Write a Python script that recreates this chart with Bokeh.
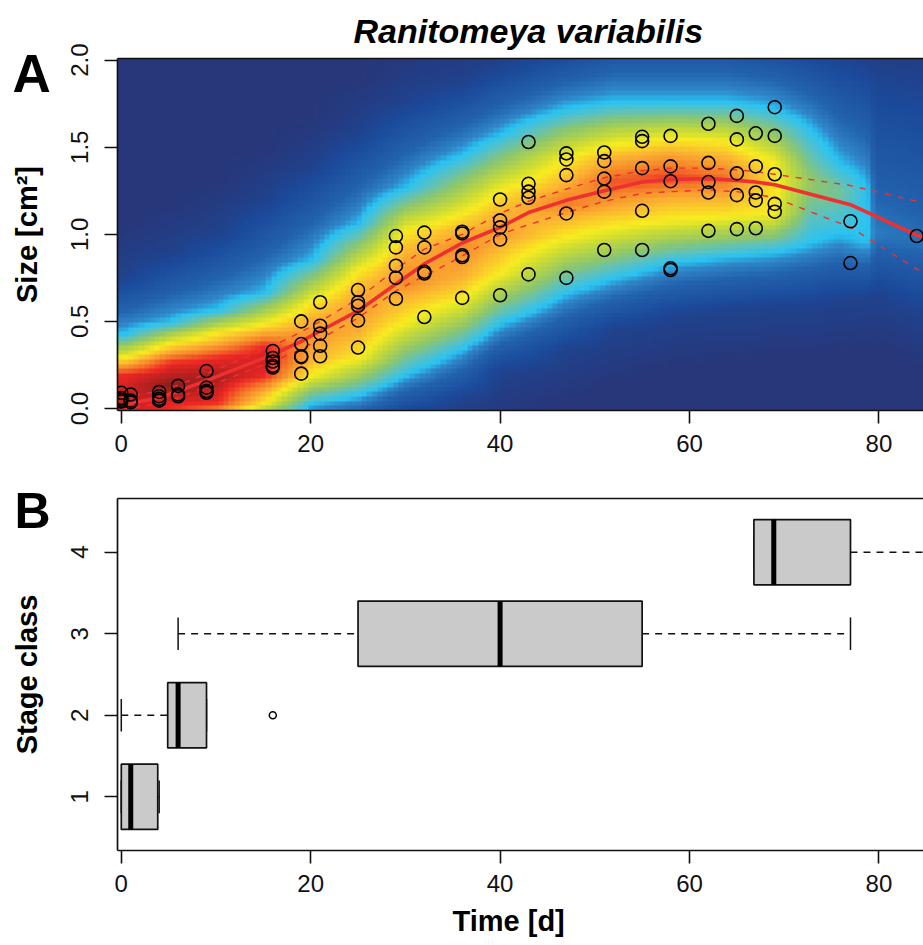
import numpy as np
from bokeh.plotting import figure
from bokeh.layouts import column
from bokeh.models import Range1d, Title, FixedTicker, LinearAxis
from bokeh.embed import file_html
from bokeh.resources import INLINE

N = float("nan")
# scatter points: day -> sizes
point_days = [0, 1, 4, 6, 9, 16, 19, 21, 25, 29, 32, 36, 40, 43, 47, 51, 55, 58, 62, 65, 67, 69, 77, 84]
point_sizes = [
    [0.09, 0.06, 0.05, 0.04],
    [0.08, 0.045, 0.035],
    [0.095, 0.07, 0.055, 0.045],
    [0.13, 0.08, 0.07],
    [0.215, 0.12, 0.10, 0.09],
    [0.33, 0.29, 0.27, 0.245, 0.235],
    [0.50, 0.37, 0.30, 0.295, 0.20],
    [0.61, 0.475, 0.43, 0.36, 0.30],
    [0.68, 0.61, 0.59, 0.505, 0.35],
    [0.99, 0.925, 0.82, 0.75, 0.63],
    [1.01, 0.925, 0.785, 0.775, 0.525],
    [1.015, 1.005, 0.88, 0.87, 0.635],
    [1.20, 1.08, 1.04, 0.97, 0.65],
    [1.53, 1.29, 1.245, 1.21, 0.77],
    [1.465, 1.43, 1.34, 1.12, 0.75],
    [1.47, 1.42, 1.32, 1.245, 0.91],
    [1.56, 1.535, 1.38, 1.135, 0.91],
    [1.565, 1.39, 1.305, 0.805, 0.795],
    [1.635, 1.41, 1.30, 1.24, 1.02],
    [1.68, 1.545, 1.35, 1.225, 1.03],
    [1.58, 1.39, 1.24, 1.195, 1.035],
    [1.73, 1.565, 1.345, 1.175, 1.13],
    [1.075, 0.835],
    [0.99],
]
# fitted curve and its confidence band
curve_days = [0, 1, 4, 6, 9, 16, 19, 21, 25, 29, 32, 36, 40, 43, 47, 51, 55, 58, 62, 65, 67, 69, 77, 84, 85]
curve_mean = [0.02, 0.03, 0.06, 0.10, 0.16, 0.31, 0.385, 0.445, 0.56, 0.715, 0.83, 0.95, 1.04, 1.125, 1.195, 1.25, 1.30, 1.315, 1.32, 1.31, 1.30, 1.285, 1.17, 0.995, 0.975]
curve_high = [0.06, 0.07, 0.10, 0.135, 0.20, 0.36, 0.44, 0.50, 0.63, 0.80, 0.915, 1.00, 1.12, 1.19, 1.26, 1.325, 1.365, 1.38, 1.38, 1.37, 1.36, 1.345, 1.28, 1.19, 1.18]
curve_low = [0.0, 0.0, 0.03, 0.06, 0.125, 0.27, 0.34, 0.40, 0.52, 0.675, 0.76, 0.875, 1.0, 1.055, 1.125, 1.19, 1.235, 1.245, 1.255, 1.245, 1.23, 1.21, 1.04, 0.80, 0.78]

# colour band of panel A, read per day: the size at which each colour is reached
band_days = [0, 5, 10, 15, 20, 25, 30, 36, 40, 47, 52, 58, 64, 69, 73, 76, 79, 80, 85]
navy_hi   = [0.75, 0.875, 1.0, 1.19, 1.38, 1.59, 1.77, 1.88, 1.98, 2.1, 2.2, 2.2, 2.2, 2.15, 2.1, 2.05, 2.0, 1.95, 1.9]
cyan_hi   = [0.42, 0.49, 0.56, 0.66, 0.85, 1.06, 1.27, 1.46, 1.575, 1.73, 1.77, 1.77, 1.77, 1.73, 1.61, 1.42, 1.27, N, N]
yellow_hi = [0.28, 0.37, 0.43, 0.48, 0.61, 0.79, 1.02, 1.12, 1.25, 1.44, 1.52, 1.555, 1.54, 1.42, N, N, N, N, N]
orange_hi = [0.245, 0.32, 0.37, 0.43, 0.51, 0.675, 0.89, 1.02, 1.12, 1.29, 1.44, 1.48, 1.44, N, N, N, N, N, N]
red_hi    = [0.18, 0.25, 0.28, 0.35, N, N, N, N, N, N, N, N, N, N, N, N, N, N, N]
peak_y    = [0.08, 0.12, 0.17, 0.27, 0.42, 0.56, 0.72, 0.92, 1.0, 1.18, 1.3, 1.33, 1.33, 1.3, 1.3, 1.25, 1.05, 1.0, 0.95]
peak_t    = [0.95, 1.0, 0.98, 0.95, 0.80, 0.80, 0.82, 0.82, 0.80, 0.84, 0.88, 0.90, 0.85, 0.69, 0.5, 0.45, 0.34, 0.27, 0.25]
red_lo    = [N, 0.0, 0.02, 0.18, N, N, N, N, N, N, N, N, N, N, N, N, N, N, N]
orange_lo = [N, N, -0.05, 0.08, 0.28, 0.43, 0.64, 0.75, 0.94, 1.10, 1.15, 1.21, 1.21, N, N, N, N, N, N]
yellow_lo = [N, N, N, 0.015, 0.18, 0.28, 0.49, 0.62, 0.77, 0.98, 1.04, 1.08, 1.10, 1.12, N, N, N, N, N]
cyan_lo   = [N, N, N, -0.1, 0.015, 0.06, 0.18, 0.33, 0.475, 0.655, 0.74, 0.83, 0.87, 0.895, 0.95, 1.0, 0.95, N, N]
navy_lo   = [N, N, N, N, -0.25, -0.15, -0.05, 0.04, 0.2, 0.33, 0.445, 0.52, 0.56, 0.58, 0.59, 0.62, 0.63, 0.65, 0.54]

# box plot of panel B
stages = [1, 2, 3, 4]
whisker_low = [0, 0, 6, 66.8]
box_low = [0, 4.9, 25, 66.8]
box_mid = [1, 6, 40, 68.9]
box_high = [3.85, 9, 55, 77]
whisker_high = [4, 9, 77, 100]
outlier_day = [16]
outlier_stage = [2]

x_ticks = [0, 20, 40, 60, 80]
size_ticks = [0.0, 0.5, 1.0, 1.5, 2.0]
palette = ["#27377a", "#1b4a9b", "#2262ae", "#2f86c8", "#29c3f3", "#5bc1c0", "#8cc66e",
           "#cddc32", "#f8ec20", "#fbb032", "#f47a28", "#ed2724", "#8c1c1c"]
palette_pos = [0.0, 0.10, 0.22, 0.29, 0.333, 0.40, 0.48, 0.60, 0.667, 0.76, 0.84, 0.92, 1.0]

FONT = "Liberation Sans"
INK = "#111111"
X_LO, X_HI = -0.40, 84.71
Y_LO, Y_HI = -0.0115, 2.0095

px = np.array([d for d, s in zip(point_days, point_sizes) for _ in s], float)
py = np.array([v for s in point_sizes for v in s], float)


def band_image(nx, ny):
    ys = np.linspace(Y_LO, Y_HI, ny)
    xs = np.linspace(X_LO, X_HI, nx)
    cols = []
    for i in range(len(band_days)):
        anchors = [
            (navy_lo[i] - 0.3, 0.0), (navy_lo[i], 0.06), (cyan_lo[i], 0.333), (yellow_lo[i], 0.667),
            (orange_lo[i], 0.76), (red_lo[i], 0.92), (peak_y[i], peak_t[i]),
            (red_hi[i], 0.92), (orange_hi[i], 0.76), (yellow_hi[i], 0.667), (cyan_hi[i], 0.333),
            (navy_hi[i], 0.06), (navy_hi[i] + 0.3, 0.0),
        ]
        anchors = [a for a in anchors if a[0] == a[0]]
        cols.append(np.interp(ys, [a[0] for a in anchors], [a[1] for a in anchors]))
    cols = np.array(cols)
    t = np.stack([np.interp(xs, band_days, cols[:, j]) for j in range(ny)])
    stops = np.array([[int(c[i:i + 2], 16) for i in (1, 3, 5)] for c in palette], float)
    rgb = np.stack([np.interp(t, palette_pos, stops[:, k]) for k in range(3)], axis=-1)
    img = np.empty((ny, nx), dtype=np.uint32)
    v = img.view(dtype=np.uint8).reshape((ny, nx, 4))
    v[..., :3] = rgb.round().astype(np.uint8)
    v[..., 3] = 255
    return img


def style(p, yticks, ylabel):
    p.grid.visible = False
    p.outline_line_color = None
    # an axis without ticks draws the frame's top edge
    p.add_layout(LinearAxis(ticker=FixedTicker(ticks=[]), major_tick_line_color=None, minor_tick_line_color=None,
                            major_tick_out=0, major_tick_in=0, major_label_text_font_size="0px",
                            major_label_standoff=0, axis_line_color=INK, axis_line_width=1.7), "above")
    for ax, ticks in ((p.below[0], x_ticks), (p.left[0], yticks)):
        ax.ticker = FixedTicker(ticks=ticks)
        ax.major_tick_in = 0
        ax.major_tick_out = 13
        ax.minor_tick_line_color = None
        ax.major_tick_line_width = 1.6
        ax.major_tick_line_color = INK
        ax.axis_line_color = INK
        ax.axis_line_width = 1.7
        ax.major_label_text_font = FONT
        ax.major_label_text_font_size = "24px"
        ax.major_label_text_color = INK
    p.below[0].major_label_standoff = 11
    y = p.left[0]
    y.major_label_standoff = 16
    y.major_label_orientation = "vertical"
    y.axis_label = ylabel
    y.axis_label_text_font = FONT
    y.axis_label_text_font_size = "29px"
    y.axis_label_text_font_style = "bold"
    y.axis_label_text_color = "black"
    y.axis_label_standoff = 26
    p.background_fill_color = "white"
    p.border_fill_color = "white"
    p.min_border_right = 0


def caption(p, s, size, offset, standoff, place="above", font_style="bold"):
    p.add_layout(Title(text=s, align="left", offset=offset, standoff=standoff, text_font=FONT, text_font_size=size,
                       text_font_style=font_style, text_color="black"), place)


# ---------- panel A
W = 923
a = figure(width=W, height=470, min_border_left=117, min_border_top=58, min_border_bottom=60,
           x_range=Range1d(X_LO, X_HI), y_range=Range1d(Y_LO, Y_HI),
           toolbar_location=None, output_backend="svg")
style(a, size_ticks, "Size [cm²]")
a.left[0].major_label_overrides = {v: f"{v:.1f}" for v in size_ticks}
a.image_rgba(image=[band_image(152, 76)], x=X_LO, y=Y_LO, dw=X_HI - X_LO, dh=Y_HI - Y_LO)
a.line(curve_days, curve_high, line_color="#ee3030", line_width=1.4, line_dash="6 7")
a.line(curve_days, curve_low, line_color="#ee3030", line_width=1.4, line_dash="6 7")
a.line(curve_days, curve_mean, line_color="#ee3030", line_width=3.6)
a.scatter(px, py, size=13, marker="circle", fill_color=None, line_color="black", line_width=1.6)
caption(a, "A", "53px", -105, -88)
caption(a, "Ranitomeya variabilis", "34px", 236, 17, font_style="bold italic")

# ---------- panel B
b = figure(width=W, height=475, min_border_left=117, min_border_top=28, min_border_bottom=95,
           x_range=Range1d(X_LO, X_HI), y_range=Range1d(0.342, 4.658),
           toolbar_location=None, output_backend="svg")
style(b, stages, "Stage class")
BH = 0.4
CH = 0.2
dash = "7 6"
s = np.array(stages, float)
b.segment(whisker_low, s, box_low, s, line_color=INK, line_width=1.5, line_dash=dash)
b.segment(box_high, s, whisker_high, s, line_color=INK, line_width=1.5, line_dash=dash)
b.segment(whisker_low, s - CH, whisker_low, s + CH, line_color=INK, line_width=1.5)
b.segment(whisker_high, s - CH, whisker_high, s + CH, line_color=INK, line_width=1.5)
b.quad(left=box_low, right=box_high, bottom=s - BH, top=s + BH, fill_color="#c9cac9", line_color=INK, line_width=1.7)
b.segment(box_mid, s - BH, box_mid, s + BH, line_color="black", line_width=5)
b.scatter(outlier_day, outlier_stage, size=7, marker="circle", fill_color=None, line_color="black", line_width=1.5)
caption(b, "B", "50px", -103, -80)
caption(b, "Time [d]", "29px", 335, 17, place="below")

open("out.html", "w").write(file_html(column(a, b, spacing=0), INLINE))
